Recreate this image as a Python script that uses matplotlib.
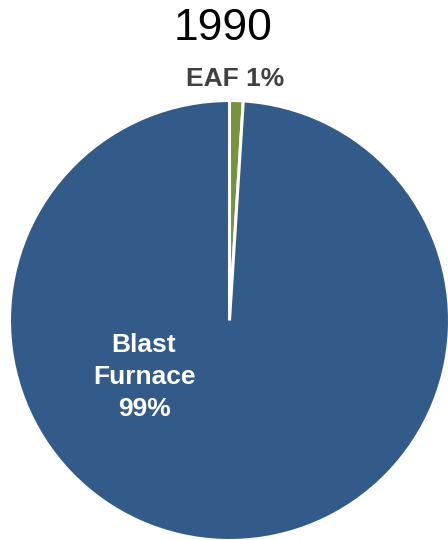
import matplotlib
matplotlib.use("Agg")
import matplotlib.pyplot as plt

plt.rcParams['font.family'] = ['Liberation Sans', 'DejaVu Sans']

year = "1990"
categories = ["EAF", "Blast Furnace"]
shares = [1, 99]
colors = ["#77933C", "#335B89"]

W, H = 448, 540
fig = plt.figure(figsize=(W / 100, H / 100), dpi=100)

cx, cy, r = 229.5, 320.5, 220.0
ax = fig.add_axes([(cx - r) / W, (H - cy - r) / H, 2 * r / W, 2 * r / H])
ax.pie(shares, colors=colors, startangle=90, counterclock=False, radius=1,
       wedgeprops=dict(edgecolor="white", linewidth=2.2))
ax.set_xlim(-1, 1)
ax.set_ylim(-1, 1)
ax.set_aspect("auto")
ax.axis("off")

fig.text(223.5 / W, 1 - 28 / H, year, ha="center", va="center", fontsize=32, color="black")
fig.text(235 / W, 1 - 78.5 / H, f"{categories[0]} {shares[0]}%", ha="center", va="center",
         fontsize=19, fontweight="bold", color="#404040")
fig.text(144 / W, 1 - 377 / H, "Blast\nFurnace\n" + f"{shares[1]}%", ha="center", va="center",
         fontsize=19, fontweight="bold", color="white", linespacing=1.4)

fig.savefig("out.png", dpi=100)
